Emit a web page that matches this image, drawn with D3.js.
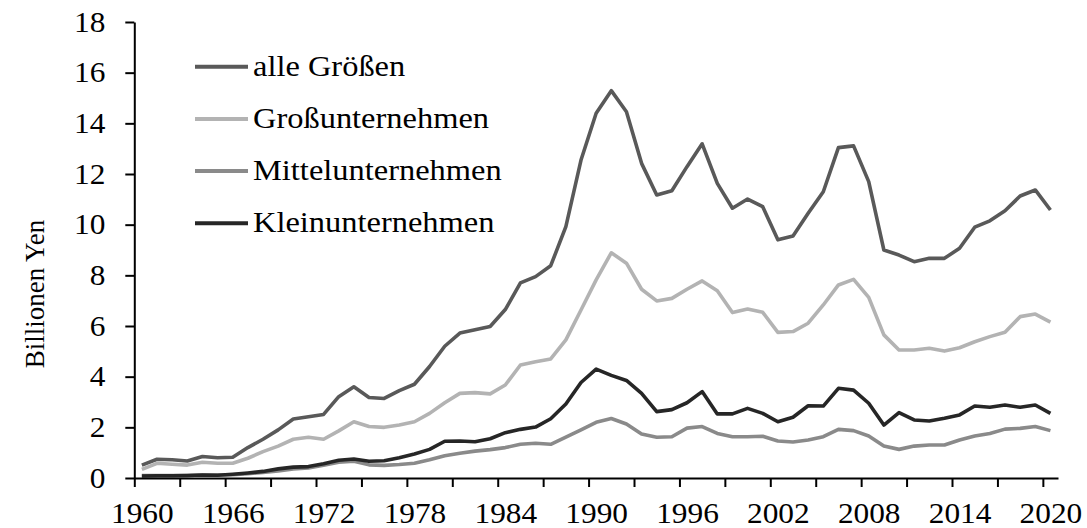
<!DOCTYPE html>
<html>
<head>
<meta charset="utf-8">
<script src="https://cdn.jsdelivr.net/npm/d3@7"></script>
<style>
  body { margin: 0; background: #fff; }
  svg text { font-family: "Liberation Serif", "Times New Roman", "DejaVu Serif", serif; fill: #000; }
</style>
</head>
<body>
<div id="viz-container"></div>
<script>
// years 1960..2020
var years = d3.range(1960, 2021);

var seriesNames = ["alle Größen", "Großunternehmen", "Mittelunternehmen", "Kleinunternehmen"];
var seriesColors = ["#595959", "#b3b3b3", "#8a8a8a", "#262626"];

var alleGroessen = [0.51, 0.74, 0.72, 0.67, 0.85, 0.80, 0.82, 1.20, 1.53, 1.90,
                    2.33, 2.42, 2.51, 3.21, 3.60, 3.18, 3.14, 3.45, 3.70, 4.40,
                    5.20, 5.72, 5.85, 5.98, 6.65, 7.70, 7.95, 8.38, 9.92, 12.55,
                    14.40, 15.29, 14.46, 12.42, 11.17, 11.34, 12.29, 13.19, 11.63, 10.65,
                    11.01, 10.71, 9.40, 9.55, 10.45, 11.30, 13.04, 13.11, 11.70, 9.00,
                    8.80, 8.54, 8.67, 8.67, 9.07, 9.90, 10.15, 10.55, 11.13, 11.37, 10.58];

var gross = [0.34, 0.58, 0.54, 0.51, 0.62, 0.58, 0.58, 0.78, 1.04, 1.26,
             1.53, 1.61, 1.53, 1.86, 2.22, 2.03, 2.00, 2.09, 2.22, 2.55,
             2.97, 3.34, 3.37, 3.32, 3.67, 4.46, 4.59, 4.70, 5.45, 6.63,
             7.82, 8.89, 8.48, 7.45, 6.99, 7.09, 7.45, 7.78, 7.39, 6.53,
             6.67, 6.54, 5.75, 5.78, 6.11, 6.83, 7.62, 7.84, 7.13, 5.65,
             5.05, 5.05, 5.12, 5.01, 5.14, 5.38, 5.58, 5.75, 6.37, 6.47, 6.15];

var mittel = [0.10, 0.10, 0.10, 0.10, 0.12, 0.12, 0.13, 0.17, 0.22, 0.28,
              0.36, 0.40, 0.50, 0.62, 0.66, 0.52, 0.50, 0.53, 0.58, 0.72,
              0.88, 0.98, 1.06, 1.12, 1.20, 1.33, 1.37, 1.33, 1.61, 1.90,
              2.20, 2.35, 2.13, 1.74, 1.61, 1.63, 1.97, 2.03, 1.76, 1.63,
              1.63, 1.65, 1.46, 1.42, 1.50, 1.63, 1.92, 1.87, 1.66, 1.26,
              1.13, 1.26, 1.30, 1.30, 1.50, 1.66, 1.76, 1.93, 1.96, 2.03, 1.87];

var klein = [0.08, 0.09, 0.09, 0.10, 0.12, 0.11, 0.15, 0.20, 0.26, 0.36,
             0.43, 0.45, 0.56, 0.70, 0.75, 0.66, 0.68, 0.80, 0.95, 1.13,
             1.45, 1.46, 1.43, 1.55, 1.79, 1.92, 2.01, 2.34, 2.92, 3.77,
             4.30, 4.05, 3.85, 3.34, 2.62, 2.70, 2.97, 3.41, 2.53, 2.53,
             2.75, 2.55, 2.22, 2.40, 2.85, 2.84, 3.54, 3.47, 2.95, 2.09,
             2.58, 2.29, 2.25, 2.36, 2.49, 2.84, 2.79, 2.88, 2.79, 2.88, 2.55];

var seriesValues = [alleGroessen, gross, mittel, klein];

var yTicks = d3.range(0, 19, 2);
var xTickYears = d3.range(1960, 2021, 3);     // tick marks at category borders
var xLabelYears = d3.range(1960, 2021, 6);    // labels at category centres

var width = 1087, height = 528;
var margin = {top: 22, right: 29, bottom: 50, left: 134.3};
var serif = "'Liberation Serif', 'Times New Roman', 'DejaVu Serif', serif";
var stretch = 1.08;   // text in the original is a little wider than tall

var svg = d3.select("#viz-container")
            .append("svg")
            .attr("width", width)
            .attr("height", height)
            .attr("font-family", serif);

var x = d3.scaleLinear()
          .domain([1960, 2021])
          .range([margin.left, width - margin.right]);

var y = d3.scaleLinear()
          .domain([0, 18])
          .range([height - margin.bottom, margin.top]);

// lines
var line = d3.line()
             .x(function(d, i) { return x(years[i] + 0.5); })
             .y(function(d) { return y(d); });

svg.append("g")
   .selectAll("path")
   .data(seriesValues)
   .enter().append("path")
   .attr("d", line)
   .attr("fill", "none")
   .attr("stroke", function(d, i) { return seriesColors[i]; })
   .attr("stroke-width", 3.6)
   .attr("stroke-linejoin", "round");

// y axis
var yAxis = svg.append("g")
   .attr("transform", "translate(" + margin.left + ",0)")
   .call(d3.axisLeft(y)
           .tickValues(yTicks)
           .tickSize(9)
           .tickPadding(20)
           .tickSizeOuter(0));
yAxis.selectAll(".tick text")
   .attr("x", 0)
   .attr("transform", "translate(-29,0) scale(" + stretch + ",1)");

// x axis tick marks
svg.append("g")
   .attr("transform", "translate(0," + y(0) + ")")
   .call(d3.axisBottom(x)
           .tickValues(xTickYears)
           .tickSize(9)
           .tickSizeOuter(0)
           .tickFormat(""));

// x axis labels
var xLabels = svg.append("g")
   .attr("transform", "translate(0," + y(0) + ")")
   .call(d3.axisBottom(x)
           .tickValues(xLabelYears.map(function(v) { return v + 0.5; }))
           .tickSize(0)
           .tickPadding(24)
           .tickFormat(function(v) { return Math.floor(v); }));
xLabels.select(".domain").remove();
xLabels.selectAll(".tick text")
   .attr("transform", "scale(" + stretch + ",1)");

svg.selectAll(".tick text")
   .style("font-family", serif)
   .style("font-size", "29px");

svg.selectAll(".domain, .tick line")
   .attr("stroke", "#000")
   .attr("stroke-width", 2);

// y axis title
svg.append("text")
   .attr("transform", "translate(44,294) rotate(-90)")
   .attr("text-anchor", "middle")
   .style("font-family", serif)
   .style("font-size", "27px")
   .text("Billionen Yen");

// legend
var legend = svg.append("g")
   .attr("transform", "translate(195,66.7)");

var item = legend.selectAll("g")
   .data(seriesNames)
   .enter().append("g")
   .attr("transform", function(d, i) { return "translate(0," + (i * 52.2) + ")"; });

item.append("line")
    .attr("x1", 0)
    .attr("x2", 53)
    .attr("stroke", function(d, i) { return seriesColors[i]; })
    .attr("stroke-width", 4);

item.append("text")
    .attr("transform", "translate(58,0) scale(1.1,1)")
    .attr("dy", "0.3em")
    .style("font-family", serif)
    .style("font-size", "29.5px")
    .text(function(d) { return d; });
</script>
</body>
</html>
